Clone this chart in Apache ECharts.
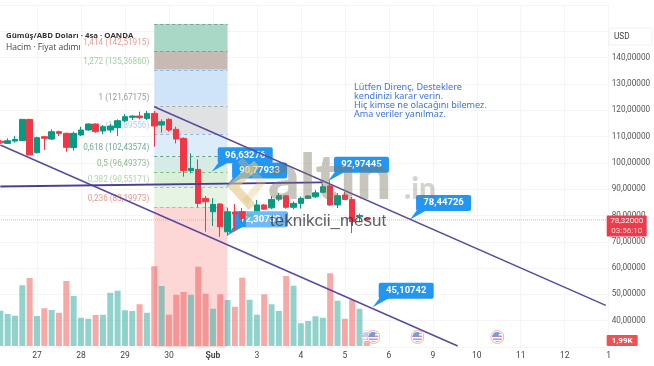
<!DOCTYPE html>
<html>
<head>
<meta charset="utf-8">
<style>
  html, body { margin: 0; padding: 0; background: #fff; }
  #chart { width: 654px; height: 366px; }
</style>
<script src="https://cdn.jsdelivr.net/npm/echarts@6/dist/echarts.min.js"></script>
</head>
<body>
<div id="chart"></div>
<script>
// [open, close, low, high], one row per 4h bar; slot 0 of the axis stays empty
const candles = [
  [108.2, 107.6, 107.2, 108.6],
  [107.4, 108.42, 107.15, 109.31],
  [108.29, 108.93, 107.66, 110.19],
  [108.42, 116.53, 108.3, 116.65],
  [116.53, 102.97, 102.9, 116.65],
  [103.86, 109.56, 103.6, 109.94],
  [109.94, 109.31, 104.87, 110.19],
  [109.05, 111.84, 108.67, 112.73],
  [111.84, 111.21, 110.19, 112.22],
  [111.21, 105.89, 104.24, 111.46],
  [105.76, 111.21, 104.62, 111.84],
  [110.58, 112.48, 110.19, 113.74],
  [112.48, 114.76, 112.22, 115.01],
  [114.76, 111.84, 111.46, 115.01],
  [112.1, 113.74, 110.95, 114.38],
  [112.48, 114, 111.46, 114.76],
  [113.36, 116.02, 110.19, 116.53],
  [116.02, 117.55, 115.52, 118.56],
  [117.3, 117.8, 116.28, 118.05],
  [117.8, 117.17, 116.53, 119.45],
  [116.9, 118.8, 116.28, 119.7],
  [118.8, 114, 106.14, 119.7],
  [114.38, 115.64, 111.46, 116.53],
  [116.53, 112.48, 111.84, 116.9],
  [112.73, 109.05, 107.4, 113.74],
  [109.31, 97.01, 94.73, 109.68],
  [97.01, 97.9, 96, 103.6],
  [97.51, 84.59, 83.07, 101.32],
  [86.49, 85.22, 73.81, 87.38],
  [81.4, 84.22, 76, 86.6],
  [84.33, 75.7, 71.9, 84.7],
  [73.8, 81.4, 72.31, 82.8],
  [81.3, 80.6, 74, 84.3],
  [81.4, 78.9, 77.1, 82.8],
  [79.7, 80.2, 79.2, 80.6],
  [81.4, 84, 80.9, 85.9],
  [84, 82.4, 82.2, 84.3],
  [82.9, 86.1, 82.4, 87.4],
  [86.2, 87.5, 85.5, 88.5],
  [87.5, 83.1, 82.6, 87.8],
  [83.1, 84.6, 82.4, 85.3],
  [84.6, 86.5, 82.6, 87.2],
  [86.5, 87.4, 86.2, 87.7],
  [87.1, 88.6, 86.6, 89.7],
  [88.8, 90.9, 88.5, 91.9],
  [91.2, 84, 83.6, 92.97],
  [84, 87.5, 82.8, 88.5],
  [87.8, 86.1, 85.8, 88.9],
  [86.1, 77.6, 73.3, 87],
  [79.5, 80, 77.5, 80.7],
  [78.9, 78.32, 78.2, 79.2]
]
const volumes = [
  14.1, 12.8, 12.1, 24.3, 27.2, 12, 15.1, 14.4, 13.3, 26,
  20, 11.3, 10.9, 12.4, 12.5, 21.3, 22.1, 14.3, 14, 16.7,
  13.3, 31.9, 24, 12.5, 20.5, 21.6, 20.5, 31.7, 20.9, 14.9,
  20.7, 18.4, 15.7, 27.3, 18.5, 12.5, 20.7, 16.7, 14, 28,
  24.1, 9.1, 10, 11.9, 11.3, 29.1, 18.1, 10.9, 18.5, 14.9, 1.99
]
const volumeUp = [
  1, 1, 1, 1, 0, 1, 0, 1, 0, 0,
  1, 1, 1, 0, 1, 1, 1, 1, 1, 0,
  1, 0, 1, 0, 0, 0, 1, 0, 0, 1,
  0, 1, 0, 0, 1, 1, 0, 1, 1, 0,
  1, 1, 1, 1, 1, 0, 1, 0, 0, 1, 0
]
const dayLabels = ['', '27', '28', '29', '30', 'Şub', '3', '4', '5', '6', '9', '10', '11', '12', '1']
const lastPrice = 78.32
const lastVolume = 1.99

const fibNames = ['1,414', '1,272', '1', '', '0,618', '0,5', '0,382', '0,236']
const fibPrices = [142.51915, 135.3686, 121.67175, 110.89556, 102.43574, 96.49373, 90.55171, 83.19973]
const fibTop = 152.8
const fibBottom = 30

const upperTrend = [[22, 121.3], [83.6, 45.8]]
const lowerTrend = [[1, 106.8], [63.4, 30.4]]
const flatTrend = [[1, 91.0], [45, 92.6]]

const calloutSlots = [29.84, 31.8, 31.9, 45.7, 56.9, 51.8]
const calloutPrices = [96.63276, 90.77933, 72.30733, 92.97445, 78.44726, 45.10742]
const flagSlots = [51, 51.9, 57.9, 68.8]
const flagPrice = 33.8

const GREEN = '#089981'
const RED = '#f23645'
const GRID = '#f3f5f8'
const BLUE = '#2196f3'
const PURPLE = '#5a4a9e'
const zoneColors = ['#a9d8c6', '#c7bab2', '#cfe4f8', '#e0e1e2', '#dcecf8', '#d6ebe6', '#daefd9', '#e7f4e3', '#fdd6d6']
const dashColors = ['#6fa68f', '#9d8f86', '#8fb6dc', '#a3a5a8', '#8fb6dc', '#5f9f8f', '#7dbb7d', '#9cc79c', '#ee9a9a']
const labelColors = ['#e67f7f', '#8cc490', '#7d828a', '#9fbfe8', '#4f9585', '#6faa6f', '#9bcb9b', '#e8806f']

const fmt = (v, n) => v.toFixed(n).replace('.', ',')
const cats = new Array(85).fill(0).map((_, i) => String(i))

const fibEdges = [fibTop].concat(fibPrices, [fibBottom])
const zoneData = zoneColors.map((color, i) => [
  { coord: [22, fibEdges[i]], itemStyle: { color: color } },
  { coord: [32, fibEdges[i + 1]] }
])
const dashData = fibEdges.slice(0, 9).map((p, i) => [
  { coord: [22, p], lineStyle: { color: dashColors[i] } },
  { coord: [32, p] }
])
const fibLabels = fibPrices.map((p, i) => ({
  value: [22, p],
  label: {
    color: labelColors[i],
    formatter: (fibNames[i] ? fibNames[i] + ' ' : '') + '(' + fmt(p, 5) + ')'
  }
}))

const flagSvg = (fade) => 'image://data:image/svg+xml,' + encodeURIComponent(
  '<svg xmlns="http://www.w3.org/2000/svg" width="28" height="28" opacity="' + fade + '">' +
  '<circle cx="14" cy="14" r="13" fill="#fff" stroke="#f19a9a" stroke-width="2"/>' +
  '<clipPath id="c"><circle cx="14" cy="14" r="10"/></clipPath>' +
  '<g clip-path="url(#c)"><rect width="28" height="28" fill="#fff"/>' +
  '<rect y="5" width="28" height="3" fill="#ee6a6a"/><rect y="11" width="28" height="3" fill="#ee6a6a"/>' +
  '<rect y="17" width="28" height="3" fill="#ee6a6a"/><rect y="22" width="28" height="3" fill="#ee6a6a"/>' +
  '<rect x="3" y="4" width="14" height="10" fill="#4f86d8"/></g></svg>'
)

function renderCallout(params, api) {
  const tip = api.coord([api.value(0), api.value(1)])
  const bx = tip[0] + 6
  const by = tip[1] - 24.5
  return {
    type: 'group',
    children: [
      { type: 'polygon', shape: { points: [tip, [bx + 1, by + 15], [bx + 11, by + 15]] }, style: { fill: BLUE } },
      { type: 'rect', shape: { x: bx, y: by, width: 55, height: 16, r: 2 }, style: { fill: BLUE } },
      {
        type: 'text',
        style: {
          x: bx + 27.5,
          y: by + 8,
          text: fmt(api.value(1), 5),
          fill: '#fff',
          font: 'bold 9.5px Roboto',
          align: 'center',
          verticalAlign: 'middle'
        }
      }
    ]
  }
}

function renderFlatTrend(params, api) {
  const a = api.coord(flatTrend[0])
  const b = api.coord(flatTrend[1])
  return {
    type: 'line',
    shape: { x1: a[0], y1: a[1], x2: b[0], y2: b[1] },
    style: { stroke: '#4b3c96', lineWidth: 1.8, fill: 'none' }
  }
}

function renderPriceTag(params, api) {
  const p = api.coord([api.value(0), api.value(1)])
  const bx = p[0] - 2
  const by = p[1] - 4.5
  return {
    type: 'group',
    children: [
      { type: 'rect', shape: { x: bx, y: by, width: 40, height: 21, r: 1 }, style: { fill: '#ee3b4b' } },
      { type: 'text', style: { x: bx + 20, y: by + 6, text: fmt(api.value(1), 5), fill: '#fff', font: '8px Roboto', align: 'center', verticalAlign: 'middle' } },
      { type: 'text', style: { x: bx + 20, y: by + 15.5, text: '03:56:10', fill: '#fbd0d4', font: '8px Roboto', align: 'center', verticalAlign: 'middle' } }
    ]
  }
}

function renderVolumeTag(params, api) {
  const p = api.coord([api.value(0), api.value(1)])
  const bx = p[0] - 2
  const by = p[1] - 6
  return {
    type: 'group',
    children: [
      { type: 'rect', shape: { x: bx, y: by, width: 31, height: 11, r: 1 }, style: { fill: '#ef5350' } },
      { type: 'text', style: { x: bx + 15.5, y: by + 5.5, text: fmt(api.value(1), 2) + 'K', fill: '#fff', font: 'bold 8px Roboto', align: 'center', verticalAlign: 'middle' } }
    ]
  }
}

const trendLine = (name, data) => ({
  name: name,
  type: 'line',
  xAxisIndex: 1,
  yAxisIndex: 0,
  data: data,
  symbol: 'none',
  z: 6,
  lineStyle: { color: PURPLE, width: 1.5 }
})

const option = {
  animation: false,
  backgroundColor: '#fff',
  grid: [
    { left: -7, right: 45.3, top: 5, height: 342, outerBoundsMode: 'none' },
    { left: -7, right: 45.3, top: 246, height: 100, outerBoundsMode: 'none' }
  ],
  xAxis: [
    { type: 'category', gridIndex: 0, data: cats, boundaryGap: false, show: false },
    {
      type: 'value',
      gridIndex: 0,
      position: 'bottom',
      min: 0,
      max: 84,
      interval: 6,
      axisLine: { show: false },
      axisTick: { show: false },
      splitLine: { show: true, lineStyle: { color: GRID } },
      axisLabel: {
        margin: 4,
        fontFamily: 'Roboto',
        fontSize: 8.5,
        color: '#444',
        hideOverlap: false,
        formatter: (v) => {
          const t = dayLabels[v / 6]
          return t === 'Şub' ? '{b|' + t + '}' : t
        },
        rich: { b: { fontFamily: 'Roboto', fontSize: 8.5, fontWeight: 'bold', color: '#444' } }
      }
    },
    { type: 'category', gridIndex: 1, data: cats, boundaryGap: false, show: false }
  ],
  yAxis: [
    {
      type: 'value',
      gridIndex: 0,
      position: 'right',
      min: 30,
      max: 160,
      interval: 10,
      axisLine: { show: false },
      axisTick: { show: false },
      splitLine: { show: true, lineStyle: { color: GRID } },
      axisLabel: {
        margin: 3,
        fontFamily: 'Roboto',
        fontSize: 8.2,
        color: '#555',
        formatter: (v) => (v === 30 || v > 140 ? '' : fmt(v, 5))
      }
    },
    { type: 'value', gridIndex: 1, min: 0, max: 40, show: false }
  ],
  series: [
    {
      name: 'fib',
      type: 'line',
      xAxisIndex: 1,
      yAxisIndex: 0,
      data: [],
      z: 1,
      markArea: { silent: true, z: 1, itemStyle: { opacity: 1 }, data: zoneData },
      markLine: {
        silent: true,
        z: 1,
        symbol: 'none',
        label: { show: false },
        lineStyle: { type: [3, 3], width: 1 },
        data: dashData
      }
    },
    {
      name: 'fibLabels',
      type: 'scatter',
      xAxisIndex: 1,
      yAxisIndex: 0,
      symbolSize: 0,
      z: 2,
      data: fibLabels,
      label: {
        show: true,
        position: 'left',
        distance: 5,
        offset: [0, -8],
        fontFamily: 'Roboto',
        fontSize: 8.2
      }
    },
    {
      name: 'Hacim',
      type: 'bar',
      xAxisIndex: 2,
      yAxisIndex: 1,
      z: 2,
      barWidth: 6,
      data: ['-'].concat(volumes.map((v, i) => ({
        value: v,
        itemStyle: { color: volumeUp[i] ? 'rgba(38,166,154,0.5)' : 'rgba(239,83,80,0.5)' }
      })))
    },
    {
      name: 'lastLine',
      type: 'line',
      xAxisIndex: 1,
      yAxisIndex: 0,
      data: [[0, lastPrice], [84, lastPrice]],
      symbol: 'none',
      z: 2,
      lineStyle: { color: '#f2a5ad', width: 1, type: [1, 1] }
    },
    {
      name: 'callouts',
      type: 'custom',
      xAxisIndex: 1,
      yAxisIndex: 0,
      z: 3,
      renderItem: renderCallout,
      data: calloutSlots.map((c, i) => [c, calloutPrices[i]])
    },
    {
      name: 'Gümüş/ABD Doları',
      type: 'candlestick',
      xAxisIndex: 0,
      yAxisIndex: 0,
      z: 4,
      barWidth: 6,
      data: [['-', '-', '-', '-']].concat(candles),
      itemStyle: { color: GREEN, color0: RED, borderColor: GREEN, borderColor0: RED, borderWidth: 1 }
    },
    trendLine('upperTrend', upperTrend),
    trendLine('lowerTrend', lowerTrend),
    {
      name: 'flatTrend',
      type: 'custom',
      xAxisIndex: 1,
      yAxisIndex: 0,
      z: 8,
      renderItem: renderFlatTrend,
      data: [flatTrend[0]]
    },
    {
      name: 'flags',
      type: 'scatter',
      xAxisIndex: 1,
      yAxisIndex: 0,
      z: 5,
      data: flagSlots.map((c, i) => ({
        value: [c, flagPrice],
        symbol: flagSvg(i === 0 ? 0.45 : 1)
      })),
      symbolSize: 14
    },
    {
      name: 'priceTag',
      type: 'custom',
      xAxisIndex: 1,
      yAxisIndex: 0,
      z: 7,
      renderItem: renderPriceTag,
      data: [[84, lastPrice]]
    },
    {
      name: 'volumeTag',
      type: 'custom',
      xAxisIndex: 2,
      yAxisIndex: 1,
      z: 7,
      renderItem: renderVolumeTag,
      data: [[84, lastVolume]]
    }
  ],
  graphic: [
    // header
    { type: 'text', z: 20, style: { x: 6, y: 32, text: 'Gümüş/ABD Doları · 4sa · OANDA', fill: '#333', font: 'bold 7.8px "Open Sans"' } },
    { type: 'text', z: 20, style: { x: 6, y: 43, text: 'Hacim · Fiyat adımı', fill: '#444', font: '8.5px "Open Sans"' } },
    // note
    { type: 'text', z: 20, style: { x: 354, y: 82.5, text: 'Lütfen Direnç, Desteklere', fill: '#3f74d6', font: '9.1px "Noto Sans"' } },
    { type: 'text', z: 20, style: { x: 354, y: 91.5, text: 'kendinizi karar verin.', fill: '#3f74d6', font: '9.1px "Noto Sans"' } },
    { type: 'text', z: 20, style: { x: 354, y: 101, text: 'Hiç kimse ne olacağını bilemez.', fill: '#3f74d6', font: '9.1px "Noto Sans"' } },
    { type: 'text', z: 20, style: { x: 354, y: 110, text: 'Ama veriler yanılmaz.', fill: '#3f74d6', font: '9.1px "Noto Sans"' } },
    // USD button
    { type: 'rect', z: 20, shape: { x: 609, y: 28, width: 43, height: 17, r: 2 }, style: { fill: '#fff', stroke: '#f0f1f3' } },
    { type: 'text', z: 21, style: { x: 614, y: 32.5, text: 'USD', fill: '#444', font: '8.2px Roboto' } },
    // watermark logo
    { type: 'polyline', z: 30, shape: { points: [[257, 164], [233, 186], [252, 207]] }, style: { fill: 'none', stroke: 'rgba(226,196,130,0.6)', lineWidth: 9 } },
    { type: 'polyline', z: 30, shape: { points: [[240, 160], [262, 182], [245, 202]] }, style: { fill: 'none', stroke: 'rgba(226,196,130,0.35)', lineWidth: 7 } },
    { type: 'text', z: 30, style: { x: 268, y: 148, text: 'altın', fill: 'rgba(125,118,95,0.42)', font: '900 62px Lato' } },
    { type: 'text', z: 30, style: { x: 404, y: 174, text: '.in', fill: 'rgba(125,118,95,0.32)', font: '900 30px Lato' } },
    { type: 'rect', z: 29, shape: { x: 246, y: 211, width: 41, height: 16 }, style: { fill: 'rgba(255,255,255,0.35)' } },
    { type: 'text', z: 31, style: { x: 270, y: 213, text: 'teknikcii_mesut', fill: 'rgba(50,50,62,0.78)', font: '17px "Liberation Sans"' } }
  ]
}

const myChart = echarts.init(document.getElementById('chart'))
myChart.setOption(option)
</script>
</body>
</html>
